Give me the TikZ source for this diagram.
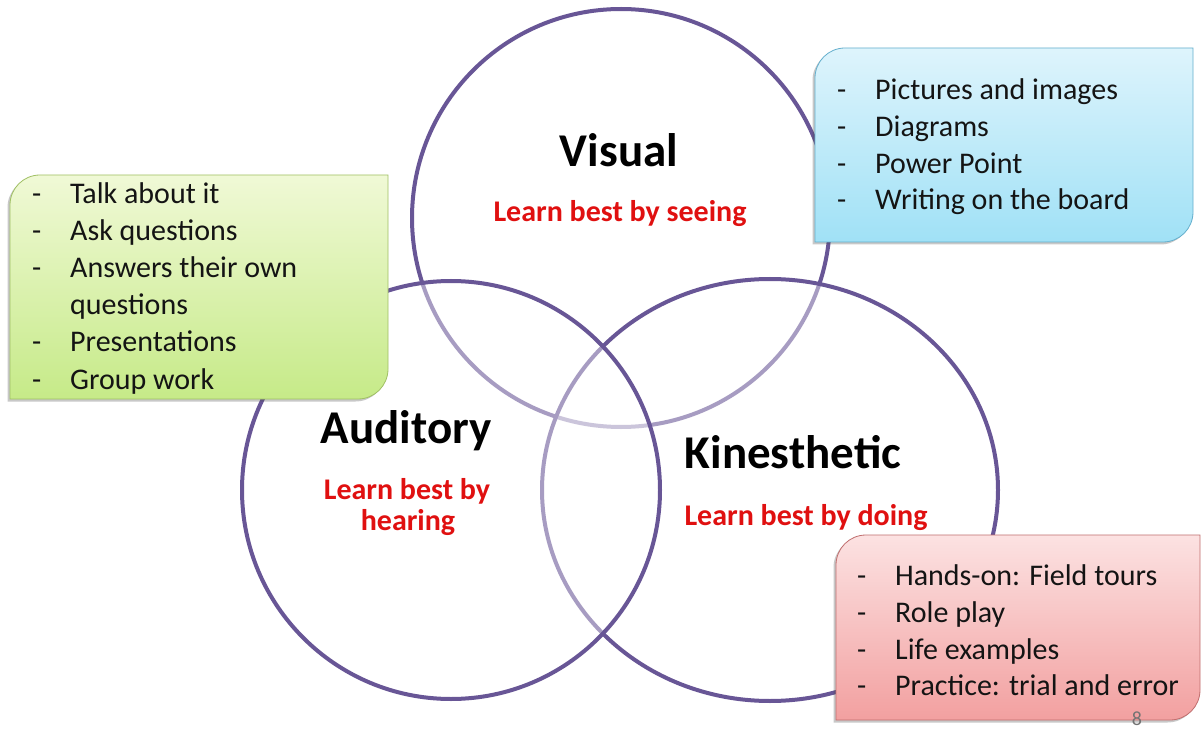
\documentclass[tikz,border=0pt]{standalone}
\usepackage{fontspec}
\setmainfont{Carlito}
\usetikzlibrary{shapes.geometric,shadows}
\definecolor{venn}{RGB}{104,86,150}
\definecolor{lred}{RGB}{224,16,16}
\definecolor{gtop}{RGB}{240,249,214}
\definecolor{gbot}{RGB}{198,234,136}
\definecolor{gline}{RGB}{160,192,100}
\definecolor{btop}{RGB}{222,244,252}
\definecolor{bbot}{RGB}{160,225,246}
\definecolor{bline}{RGB}{100,175,205}
\definecolor{rtop}{RGB}{252,226,226}
\definecolor{rbot}{RGB}{242,160,160}
\definecolor{rline}{RGB}{192,110,110}
\tikzset{
  vcirc/.style={draw=venn, line width=4pt, fill=white, fill opacity=0.42, inner sep=0pt},
  boxshadow/.style={drop shadow={shadow xshift=-2.5pt, shadow yshift=-2.5pt, opacity=0.3, fill=black!70}},
  itemline/.style={anchor=base west, inner sep=0pt, font=\fontsize{30}{36}\selectfont, text=black!92},
  titletext/.style={anchor=base, inner sep=0pt, font=\bfseries\fontsize{47}{56}\selectfont, text=black},
  subtext/.style={anchor=base, inner sep=0pt, font=\bfseries\fontsize{30}{36}\selectfont, text=lred},
}
\newcommand{\itm}[1]{\makebox[38pt][l]{-}#1}
\newcommand{\itmcont}[1]{\makebox[38pt][l]{}#1}
\begin{document}
\begin{tikzpicture}[x=1pt,y=-1pt]
\useasboundingbox (0,0) rectangle (1203,730);
\fill[white] (0,0) rectangle (1203,730);

% Venn circles (Visual bottom, Kinesthetic middle, Auditory top)
\node[vcirc, circle, minimum size=418pt] (vis) at (621,218) {};
\node[vcirc, ellipse, minimum width=456pt, minimum height=422pt] (kin) at (770,490) {};
\node[vcirc, circle, minimum size=418pt] (aud) at (451,490) {};

% Green box
\draw[boxshadow, draw=gline, line width=0.8pt, top color=gtop, bottom color=gbot]
  (10,205) .. controls (10,188.4) and (23.4,175) .. (40,175) -- (388,175) -- (388,369)
  .. controls (388,385.6) and (374.6,399) .. (358,399) -- (10,399) -- cycle;
% Blue box
\draw[boxshadow, draw=bline, line width=0.8pt, top color=btop, bottom color=bbot]
  (815,78) .. controls (815,61.4) and (828.4,48) .. (845,48) -- (1193,48) -- (1193,212)
  .. controls (1193,228.6) and (1179.6,242) .. (1163,242) -- (815,242) -- cycle;
% Red box
\draw[boxshadow, draw=rline, line width=0.8pt, top color=rtop, bottom color=rbot]
  (836,565) .. controls (836,548.4) and (849.4,535) .. (866,535) -- (1200,535) -- (1200,690)
  .. controls (1200,706.6) and (1186.6,720) .. (1170,720) -- (836,720) -- cycle;

% Green list
\node[itemline] (g1) at (32,204) {\itm{Talk about it}};
\node[itemline] (g2) at (32,241) {\itm{Ask questions}};
\node[itemline] (g3) at (32,278) {\itm{Answers their own}};
\node[itemline] (g4) at (32,315) {\itmcont{questions}};
\node[itemline] (g5) at (32,352) {\itm{Presentations}};
\node[itemline] (g6) at (32,389) {\itm{Group work}};

% Blue list
\node[itemline] (b1) at (837,100) {\itm{Pictures and images}};
\node[itemline] (b2) at (837,137) {\itm{Diagrams}};
\node[itemline] (b3) at (837,173.5) {\itm{Power Point}};
\node[itemline] (b4) at (837,210) {\itm{Writing on the board}};

% Red list
\node[itemline] (r1) at (857,585) {\itm{Hands-on: Field tours}};
\node[itemline] (r2) at (857,622) {\itm{Role play}};
\node[itemline] (r3) at (857,659) {\itm{Life examples}};
\node[itemline] (r4) at (857,695.5) {\itm{Practice: trial and error}};

% Titles
\node[titletext] (tv) at (619,167) {Visual};
\node[subtext] (sv) at (620,222) {Learn best by seeing};
\node[titletext] (ta) at (406,443) {Auditory};
\node[subtext] (sa1) at (407,499) {Learn best by};
\node[subtext] (sa2) at (408,530) {hearing};
\node[titletext] (tk) at (793,468) {Kinesthetic};
\node[subtext] (sk) at (806,525) {Learn best by doing};

% Page number
\node[anchor=base, inner sep=0pt, font=\fontsize{20}{24}\selectfont, text=black!55] (pg) at (1137,725) {8};
\end{tikzpicture}
\end{document}
